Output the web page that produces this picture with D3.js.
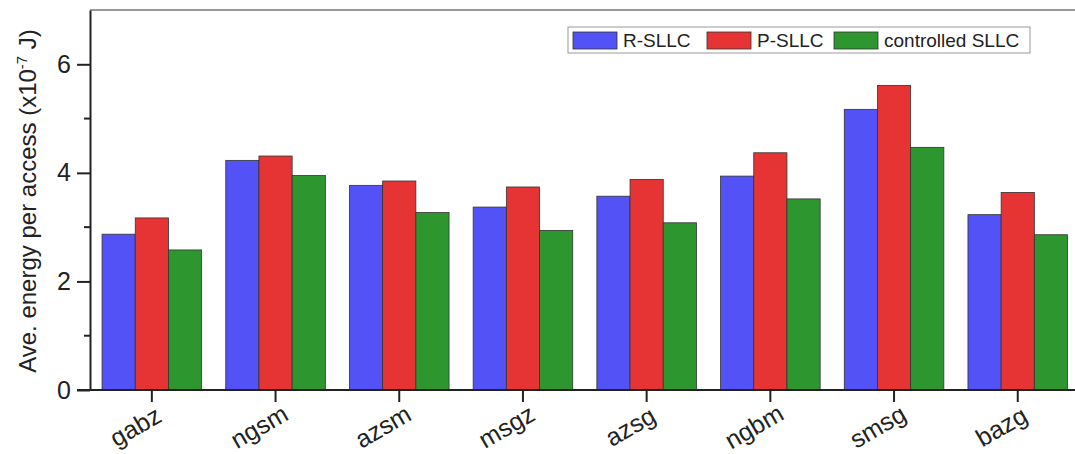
<!DOCTYPE html>
<html>
<head>
  <meta charset="utf-8">
  <title>Energy per access</title>
  <script src="https://d3js.org/d3.v7.min.js"></script>
  <style>
    body { margin: 0; background: #fff; }
    text { font-family: "Liberation Sans", Arial, sans-serif; fill: #222; }
  </style>
</head>
<body>
  <div id="chart"></div>
  <script>
    "use strict"

    // categories and series values (x10^-7 J)
    var categorias = ['gabz', 'ngsm', 'azsm', 'msgz', 'azsg', 'ngbm', 'smsg', 'bazg'];
    var series = ['R-SLLC', 'P-SLLC', 'controlled SLLC'];
    var rSllc = [2.87, 4.23, 3.77, 3.37, 3.57, 3.94, 5.17, 3.23];
    var pSllc = [3.17, 4.31, 3.85, 3.74, 3.88, 4.37, 5.61, 3.64];
    var controlado = [2.58, 3.95, 3.27, 2.94, 3.08, 3.52, 4.47, 2.86];
    var yTicks = [0, 2, 4, 6];
    var yMinor = [1, 3, 5];

    var cores = ['#5252f7', '#e63434', '#2e962e'];

    var largura = 1075, altura = 454;
    var margin = {top: 10, right: 0, bottom: 64, left: 90};
    var alturaVis = altura - margin.top - margin.bottom;

    var svg = d3.select('#chart').append('svg')
      .attr('width', largura)
      .attr('height', altura);

    var x = d3.scaleBand()
      .domain(categorias)
      .range([margin.left, margin.left + 8 * 123.7])
      .paddingInner(0.195)
      .paddingOuter(0.0975);

    var xs = d3.scaleBand()
      .domain(series)
      .range([0, x.bandwidth()]);

    var y = d3.scaleLinear()
      .domain([0, 7])
      .range([margin.top + alturaVis, margin.top]);

    var linhas = categorias.map(function(c, i) {
      return {cat: c, vals: [rSllc[i], pSllc[i], controlado[i]]};
    });

    // frame top
    svg.append('line')
      .attr('x1', margin.left).attr('x2', largura)
      .attr('y1', y(7)).attr('y2', y(7))
      .attr('stroke', '#777').attr('stroke-width', 1.5);

    // barras
    var grupos = svg.selectAll('g.grupo')
      .data(linhas)
      .enter().append('g')
        .attr('class', 'grupo')
        .attr('transform', function(d) { return 'translate(' + x(d.cat) + ',0)'; });

    grupos.selectAll('rect')
      .data(function(d) { return d.vals.map(function(v, j) { return {s: series[j], v: v, j: j}; }); })
      .enter().append('rect')
        .attr('x', function(d) { return xs(d.s); })
        .attr('width', xs.bandwidth())
        .attr('y', function(d) { return y(d.v); })
        .attr('height', function(d) { return y(0) - y(d.v); })
        .attr('fill', function(d) { return cores[d.j]; })
        .attr('stroke', '#333')
        .attr('stroke-width', 0.8);

    // eixo x
    var eixoX = svg.append('g')
      .attr('transform', 'translate(0,' + y(0) + ')')
      .call(d3.axisBottom(x).tickSize(12).tickSizeOuter(0).tickFormat(''));
    eixoX.select('.domain').attr('stroke', '#222').attr('stroke-width', 2)
      .attr('d', 'M' + (margin.left - 13) + ',0H' + largura);
    eixoX.selectAll('.tick line').attr('stroke', '#222').attr('stroke-width', 2);

    svg.selectAll('text.xlabel')
      .data(categorias)
      .enter().append('text')
        .attr('class', 'xlabel')
        .attr('text-anchor', 'middle')
        .attr('font-size', 25)
        .attr('transform', function(d) {
          return 'translate(' + (x(d) + x.bandwidth() / 2 - 12) + ',434) rotate(-30)';
        })
        .text(function(d) { return d; });

    // eixo y
    var eixoY = svg.append('g')
      .attr('transform', 'translate(' + margin.left + ',0)')
      .call(d3.axisLeft(y).tickValues(yTicks).tickFormat(d3.format('d'))
        .tickSize(13).tickSizeOuter(0).tickPadding(6));
    eixoY.select('.domain').attr('stroke', '#222').attr('stroke-width', 2);
    eixoY.selectAll('.tick line').attr('stroke', '#222').attr('stroke-width', 2);
    eixoY.selectAll('.tick text').attr('font-size', 25)
      .attr('font-family', '"Liberation Sans", Arial, sans-serif').attr('fill', '#222');

    svg.append('g')
      .attr('transform', 'translate(' + margin.left + ',0)')
      .selectAll('line')
      .data(yMinor)
      .enter().append('line')
        .attr('x1', -6).attr('x2', 0)
        .attr('y1', function(d) { return y(d); })
        .attr('y2', function(d) { return y(d); })
        .attr('stroke', '#222').attr('stroke-width', 2);

    var titulo = svg.append('text')
      .attr('transform', 'translate(36,' + 201 + ') rotate(-90)')
      .attr('text-anchor', 'middle')
      .attr('font-size', 24);
    titulo.append('tspan').text('Ave. energy per access (x10');
    titulo.append('tspan').attr('dy', -9).attr('font-size', 15).text('-7');
    titulo.append('tspan').attr('dy', 9).text(' J)');

    // legenda
    var leg = svg.append('g').attr('transform', 'translate(568,27)');
    leg.append('rect')
      .attr('width', 462).attr('height', 26)
      .attr('fill', '#fff').attr('stroke', '#999').attr('stroke-width', 1);
    var posLeg = [5, 139, 266];
    var itens = leg.selectAll('g.item')
      .data(series)
      .enter().append('g')
        .attr('class', 'item')
        .attr('transform', function(d, i) { return 'translate(' + posLeg[i] + ',0)'; });
    itens.append('rect')
      .attr('y', 5).attr('width', 44).attr('height', 17)
      .attr('fill', function(d, i) { return cores[i]; })
      .attr('stroke', '#333').attr('stroke-width', 0.8);
    itens.append('text')
      .attr('x', 50).attr('y', 20)
      .attr('font-size', 19)
      .text(function(d) { return d; });
  </script>
</body>
</html>
